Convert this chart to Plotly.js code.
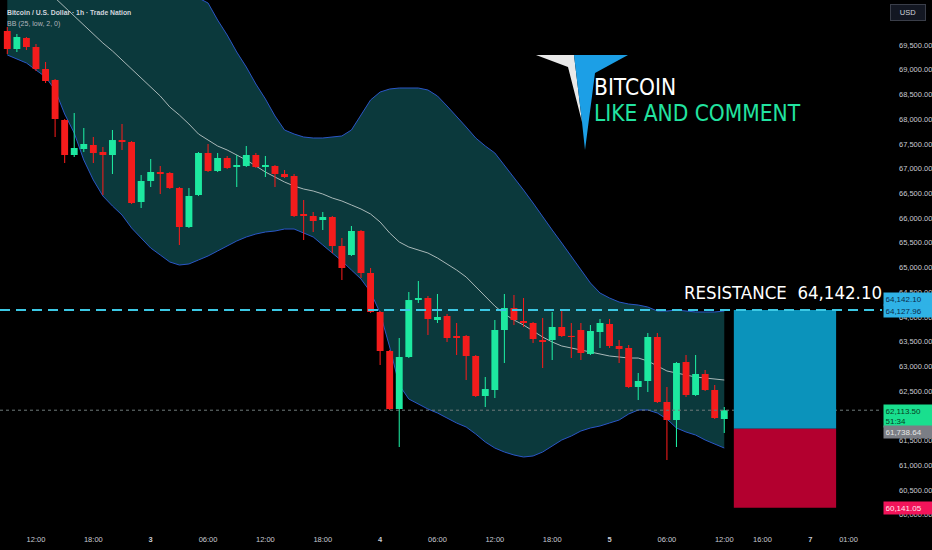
<!DOCTYPE html>
<html>
<head>
<meta charset="utf-8">
<script src="https://cdn.plot.ly/plotly-3.0.1.min.js"></script>
<style>
html,body{margin:0;padding:0;background:#000;}
#chart{width:932px;height:550px;}
</style>
</head>
<body>
<div id="chart"></div>
<script>
// ---- data (BTCUSD 1h, bar 0 = day 2 09:00) ----
const openP  = [69783,69419,69641,69459,69014,68792,67983,67275,67396,67477,67336,67275,67578,67538,66325,66749,66931,66911,66608,65819,66466,67316,66952,67214,67032,67053,67275,67032,67053,66891,66850,66082,66041,65960,66021,65435,65253,65738,64889,64100,63311,62138,63190,64342,64383,63938,64019,63614,63614,63210,62401,62522,63736,64181,63918,63877,63533,63533,63797,63614,63736,63251,63695,63857,63412,63372,62583,62704,63594,62280,61916,63089,62421,62846,62522,61936];
const highP  = [69864,69722,69662,69520,69156,68812,68003,68125,67821,67639,67437,67781,67902,67558,66871,67194,67053,66931,66628,66608,67336,67498,67316,67255,67275,67457,67316,67255,67073,66972,66891,66365,66122,66122,66041,65596,65839,65758,64990,64120,63331,63574,64504,64727,64423,64464,64060,63877,63635,63230,62785,63938,64464,64444,64383,63898,63978,64100,64140,63877,63877,63837,63958,63958,63533,63432,62866,63675,63675,62583,63089,63230,63230,62927,62623,62178];
const lowP   = [69318,69358,69399,68974,68731,67639,67113,67235,67336,67113,66466,66891,67376,66284,66203,66628,66486,66588,65455,65799,66446,66931,66931,66992,66628,67032,67012,66830,66628,66810,66021,65556,65718,65758,65293,64747,65233,64787,64080,63028,62118,61369,63170,64282,63635,63877,63493,63230,62724,62381,62178,62360,63068,63837,63797,63473,62967,63129,63594,63170,63129,63230,63372,63372,63068,62563,62320,62482,62260,61106,61369,62381,62401,62502,61936,61653];
const closeP = [69419,69662,69459,69014,68772,68003,67275,67417,67498,67316,67275,67578,67538,66304,66749,66931,66891,66608,65819,66446,67316,66952,67214,67012,67073,67275,67032,67073,66891,66830,66041,66041,65940,66021,65435,64990,65738,64889,64100,63311,62138,63190,64342,64383,63958,63999,63574,63574,63210,62401,62542,63736,64181,63938,63877,63554,63493,63797,63614,63594,63271,63716,63877,63412,63352,62583,62704,63594,62280,61916,63068,62421,62846,62522,61956,62113.5];

// Bollinger Bands (25, low, 2)
const bbUpper = [72900,72850,72800,72750,72700,72650,72600,72500,72350,72200,72050,71900,71750,71600,71450,71300,71150,71000,70850,70650,70450,70349,70005,69702,69358,69055,68711,68408,68064,67781,67700,67639,67619,67619,67639,67660,67781,68084,68388,68549,68610,68630,68630,68630,68590,68468,68266,68064,67841,67619,67457,67316,67073,66810,66567,66304,66021,65758,65495,65233,64949,64686,64484,64383,64302,64261,64241,64201,64120,64120,64140,64120,64100,64100,64100,64120];
const bbBasis = [71320,71138,70976,70794,70612,70450,70268,70066,69884,69702,69540,69379,69196,69014,68832,68650,68468,68246,68084,67902,67700,67578,67457,67376,67275,67174,67053,66931,66830,66729,66648,66587,66547,66486,66405,66345,66264,66183,66082,65920,65698,65516,65414,65354,65293,65192,65071,64949,64808,64605,64403,64221,64059,63938,63837,63716,63594,63493,63412,63372,63331,63291,63250,63210,63190,63169,63169,63109,63008,62907,62866,62826,62785,62765,62745,62724];
const bbLower = [69298,69217,69136,68994,68853,68590,68104,67720,67174,66769,66446,66244,66062,65799,65596,65394,65253,65111,65050,65071,65152,65233,65334,65435,65536,65617,65677,65718,65738,65778,65778,65698,65617,65455,65293,65131,64949,64767,64504,64080,63392,62623,62340,62239,62138,62057,61956,61855,61774,61632,61471,61349,61268,61208,61167,61188,61268,61390,61511,61592,61693,61754,61794,61855,61915,62037,62118,62118,62057,61936,61754,61673,61612,61511,61430,61349];

// levels
const resistance = 64142.10;
const resistanceTag2 = 64127.96;
const lastPrice = 62113.50;
const entryPrice = 61738.64;
const stopPrice = 60141.05;
const countdown = "51:34";
const positionBars = [76.0, 86.7];

// axis ticks
const timeTickBars   = [3, 9, 15, 21, 27, 33, 39, 45, 51, 57, 63, 69, 75, 79, 84, 88];
const timeTickLabels = ["12:00","18:00","<b>3</b>","06:00","12:00","18:00","<b>4</b>","06:00","12:00","18:00","<b>5</b>","06:00","12:00","16:00","<b>7</b>","01:00"];
const priceTicks = [60000,60500,61000,61500,62500,63000,63500,64000,64500,65000,65500,66000,66500,67000,67500,68000,68500,69000,69500];

// ---- build ----
const W = 932, H = 550, mL = 0, mR = 50, mT = 0, mB = 25;
const PW = W - mL - mR, PH = H - mT - mB;
const px = x => x / PW;
const py = y => 1 - y / PH;
const XR = [-0.764, 91.5], YR = [59792, 70410];

const idx = closeP.map((_, i) => i);
const UP = '#1de9a0', DN = '#f41c1c';
const colors = closeP.map((c, i) => c >= openP[i] ? UP : DN);
const minBody = 22;
const bodyBase = closeP.map((c, i) => Math.min(c, openP[i]));
const bodyLen = closeP.map((c, i) => Math.max(Math.abs(c - openP[i]), minBody));

const traces = [
  {x: idx, y: bbUpper, type: 'scatter', mode: 'lines', line: {color: '#2a56c6', width: 1}, hoverinfo: 'skip'},
  {x: idx, y: bbLower, type: 'scatter', mode: 'lines', line: {color: '#2a56c6', width: 1}, fill: 'tonexty', fillcolor: '#0b393c', hoverinfo: 'skip'},
  {x: idx, y: bbBasis, type: 'scatter', mode: 'lines', line: {color: '#a9b8b8', width: 1}, hoverinfo: 'skip'},
  {x: idx, base: lowP, y: highP.map((h, i) => h - lowP[i]), type: 'bar', width: 0.11, xaxis: 'x2', yaxis: 'y2',
   marker: {color: colors, line: {width: 0}}, hoverinfo: 'skip'},
  {x: idx, base: bodyBase, y: bodyLen, type: 'bar', width: 0.72, xaxis: 'x2', yaxis: 'y2',
   marker: {color: colors, line: {width: 0}}, hoverinfo: 'skip'}
];

const tagFont = (c) => ({family: 'Liberation Sans, Arial, sans-serif', size: 8, color: c});
const tag = (txt, y, bg, fc, yshift) => ({
  xref: 'paper', yref: 'y', x: 1, y: y, xanchor: 'left', yanchor: 'middle', xshift: 1, yshift: yshift || 0,
  text: txt, showarrow: false, bgcolor: bg, font: tagFont(fc), width: 46, align: 'left', borderpad: 1.5
});
const fmt = v => v.toLocaleString('en-US', {minimumFractionDigits: 2, maximumFractionDigits: 2});

const annotations = [
  {xref: 'paper', yref: 'paper', x: px(5), y: py(12), xanchor: 'left', yanchor: 'middle', showarrow: false,
   text: 'Bitcoin / U.S. Dollar · 1h · Trade Nation', font: {family: 'Liberation Sans, Arial, sans-serif', size: 6.8, color: '#d1d4dc', weight: 700}},
  {xref: 'paper', yref: 'paper', x: px(5), y: py(24), xanchor: 'left', yanchor: 'middle', showarrow: false,
   text: 'BB (25, low, 2, 0)', font: {family: 'Liberation Sans, Arial, sans-serif', size: 7, color: '#b2b5be'}},
  {xref: 'paper', yref: 'paper', x: px(592), y: py(87), xanchor: 'left', yanchor: 'middle', showarrow: false,
   text: 'BITCOIN', font: {family: 'DejaVu Sans Condensed, DejaVu Sans, sans-serif', size: 22.5, color: '#ffffff'}},
  {xref: 'paper', yref: 'paper', x: px(592), y: py(113), xanchor: 'left', yanchor: 'middle', showarrow: false,
   text: 'LIKE AND COMMENT', font: {family: 'DejaVu Sans Condensed, DejaVu Sans, sans-serif', size: 22.5, color: '#22e3a0'}},
  {xref: 'paper', yref: 'paper', x: 1, y: py(292), xanchor: 'right', yanchor: 'middle', xshift: 2, showarrow: false,
   text: 'RESISTANCE&nbsp;&nbsp;' + fmt(resistance),
   font: {family: 'DejaVu Sans Condensed, DejaVu Sans, sans-serif', size: 18.5, color: '#ffffff'}},
  {xref: 'paper', yref: 'paper', x: 1, y: 1, xanchor: 'left', yanchor: 'top', xshift: 8, yshift: -4, showarrow: false,
   text: 'USD', bgcolor: '#131722', bordercolor: '#3a3e49', borderwidth: 1, borderpad: 3, width: 28,
   font: {family: 'Liberation Sans, Arial, sans-serif', size: 7.5, color: '#d1d4dc'}},
  tag(fmt(resistance), resistance, '#2fb2e6', '#0a2c4c', 11),
  tag(fmt(resistanceTag2), resistanceTag2, '#2fb2e6', '#0a2c4c', 0),
  Object.assign(tag(fmt(lastPrice) + '<br>' + countdown, lastPrice, '#19df8e', '#063d24', 0), {yanchor: 'top', yshift: 6}),
  tag(fmt(entryPrice), entryPrice, '#7b7e85', '#e6e6e6', -3),
  tag(fmt(stopPrice), stopPrice, '#f2145a', '#ffe6ee', 0)
];

const path = pts => 'M' + pts.map(p => px(p[0]) + ',' + py(p[1])).join(' L') + ' Z';

const shapes = [
  {type: 'line', xref: 'paper', yref: 'y', x0: 0, x1: 1, y0: lastPrice, y1: lastPrice, line: {color: '#6f7a7a', width: 1, dash: 'dot'}, layer: 'above'},
  {type: 'rect', xref: 'x', yref: 'y', x0: positionBars[0], x1: positionBars[1], y0: entryPrice, y1: resistance, fillcolor: '#0b93bb', line: {width: 0}, layer: 'above'},
  {type: 'rect', xref: 'x', yref: 'y', x0: positionBars[0], x1: positionBars[1], y0: stopPrice, y1: entryPrice, fillcolor: '#b3002f', line: {width: 0}, layer: 'above'},
  {type: 'line', xref: 'paper', yref: 'y', x0: 0, x1: 1, y0: resistance, y1: resistance, line: {color: '#3cc8e4', width: 2, dash: '10px,6px'}, layer: 'above'},
  {type: 'path', xref: 'paper', yref: 'paper', path: path([[536,55],[574,55],[582,122],[568,67]]), fillcolor: '#e9e9e9', line: {width: 0}},
  {type: 'path', xref: 'paper', yref: 'paper', path: path([[574,55],[628,55],[595,73],[585,150],[582,122]]), fillcolor: '#1c9fe6', line: {width: 0}}
];

const hiddenAxis = {showgrid: false, zeroline: false, showline: false, showticklabels: false, ticks: '', fixedrange: true};

const layout = {
  width: W, height: H,
  margin: {l: mL, r: mR, t: mT, b: mB, pad: 0},
  paper_bgcolor: '#000000', plot_bgcolor: '#000000',
  showlegend: false, barmode: 'overlay', hovermode: false,
  xaxis: {
    range: XR, showgrid: false, zeroline: false, showline: false,
    tickmode: 'array', tickvals: timeTickBars, ticktext: timeTickLabels, ticks: '', ticklabelstandoff: 8,
    tickfont: {family: 'Liberation Sans, Arial, sans-serif', size: 7.5, color: '#c8cbd3'}, fixedrange: true
  },
  yaxis: {
    side: 'right', range: YR, showgrid: false, zeroline: false, showline: false,
    tickmode: 'array', tickvals: priceTicks, tickformat: ',.2f', ticks: '', ticklabelstandoff: 16,
    tickfont: {family: 'Liberation Sans, Arial, sans-serif', size: 7.5, color: '#c8cbd3'}, fixedrange: true
  },
  xaxis2: Object.assign({overlaying: 'x', range: XR}, hiddenAxis),
  yaxis2: Object.assign({overlaying: 'y', side: 'right', range: YR}, hiddenAxis),
  shapes: shapes,
  annotations: annotations
};

Plotly.newPlot('chart', traces, layout, {staticPlot: true, displayModeBar: false});
</script>
</body>
</html>
